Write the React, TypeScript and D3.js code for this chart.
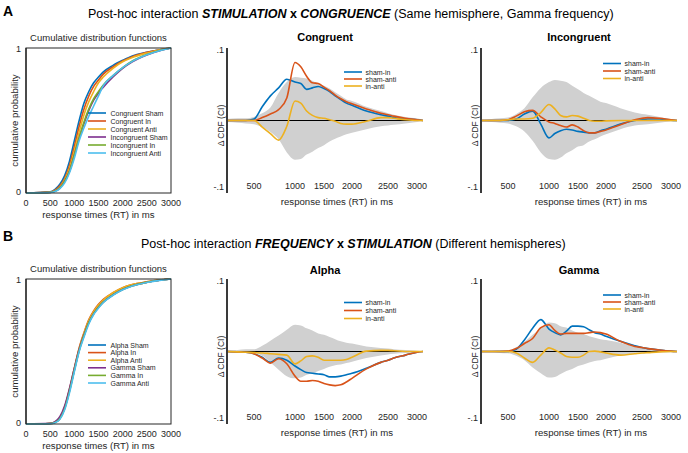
import React from 'react';
import * as d3 from 'd3';

const FONT = '"Liberation Sans", Arial, Helvetica, sans-serif';
const TXT = '#262626';
const C_BLUE = '#0072BD';
const C_ORANGE = '#D95319';
const C_YELLOW = '#EDB120';
const C_PURPLE = '#7E2F8E';
const C_GREEN = '#77AC30';
const C_CYAN = '#4DBEEE';
const C_CI = '#d0d0d0';

// ---------- Cumulative distribution functions ----------
const CDF_RT = [0, 500, 600, 700, 800, 900, 1000, 1100, 1200, 1300, 1400, 1500, 1600, 1800, 2000, 2200, 2500, 2800, 3000];
const CDF_TICKS = [0, 500, 1000, 1500, 2000, 2500, 3000];

const CDF_A_LABELS = ['Congruent Sham', 'Congruent In', 'Congruent Anti', 'Incongruent Sham', 'Incongruent In', 'Incongruent Anti'];
const CONG_SHAM = [0, 0.008, 0.025, 0.06, 0.12, 0.22, 0.36, 0.5, 0.62, 0.7, 0.76, 0.8, 0.835, 0.88, 0.915, 0.945, 0.97, 0.99, 1];
const CONG_IN = [0, 0.006, 0.02, 0.05, 0.1, 0.19, 0.32, 0.46, 0.58, 0.67, 0.735, 0.78, 0.82, 0.87, 0.91, 0.94, 0.97, 0.99, 1];
const CONG_ANTI = [0, 0.005, 0.015, 0.04, 0.09, 0.17, 0.29, 0.42, 0.54, 0.63, 0.7, 0.76, 0.8, 0.86, 0.905, 0.935, 0.965, 0.99, 1];
const INC_SHAM = [0, 0.004, 0.012, 0.035, 0.08, 0.15, 0.26, 0.38, 0.48, 0.57, 0.64, 0.69, 0.73, 0.8, 0.86, 0.905, 0.952, 0.985, 1];
const INC_IN = [0, 0.004, 0.012, 0.035, 0.08, 0.15, 0.26, 0.38, 0.49, 0.58, 0.65, 0.7, 0.745, 0.81, 0.865, 0.91, 0.955, 0.986, 1];
const INC_ANTI = [0, 0.003, 0.01, 0.03, 0.07, 0.14, 0.24, 0.36, 0.45, 0.53, 0.6, 0.67, 0.74, 0.81, 0.865, 0.908, 0.953, 0.985, 1];

const CDF_B_LABELS = ['Alpha Sham', 'Alpha In', 'Alpha Anti', 'Gamma Sham', 'Gamma In', 'Gamma Anti'];
const ALPHA_SHAM = [0, 0.003, 0.012, 0.038, 0.11, 0.23, 0.37, 0.51, 0.61, 0.7, 0.765, 0.81, 0.845, 0.895, 0.93, 0.955, 0.978, 0.993, 1];
const ALPHA_IN = [0, 0.003, 0.012, 0.04, 0.115, 0.24, 0.385, 0.525, 0.63, 0.72, 0.78, 0.825, 0.86, 0.905, 0.94, 0.962, 0.98, 0.994, 1];
const ALPHA_ANTI = [0, 0.003, 0.012, 0.04, 0.112, 0.235, 0.38, 0.52, 0.625, 0.715, 0.775, 0.82, 0.855, 0.905, 0.94, 0.962, 0.98, 0.994, 1];
const GAMMA_SHAM = [0, 0.004, 0.016, 0.05, 0.125, 0.245, 0.385, 0.515, 0.615, 0.7, 0.76, 0.805, 0.84, 0.89, 0.928, 0.953, 0.977, 0.993, 1];
const GAMMA_IN = [0, 0.003, 0.011, 0.036, 0.105, 0.225, 0.37, 0.505, 0.61, 0.7, 0.76, 0.805, 0.84, 0.89, 0.928, 0.953, 0.977, 0.993, 1];
const GAMMA_ANTI = [0, 0.002, 0.009, 0.032, 0.098, 0.215, 0.36, 0.5, 0.6, 0.69, 0.755, 0.8, 0.838, 0.888, 0.926, 0.952, 0.976, 0.992, 1];

const CDF_COLORS = [C_BLUE, C_ORANGE, C_YELLOW, C_PURPLE, C_GREEN, C_CYAN];

// ---------- Delta CDF ----------
const DELTA_RT = [170, 300, 400, 500, 600, 700, 800, 900, 1000, 1100, 1200, 1300, 1400, 1500, 1600, 1700, 1800, 1900, 2000, 2200, 2400, 2500, 2600, 2800, 3000, 3100];
const DELTA_TICKS = [500, 1000, 1500, 2000, 2500, 3000];
const DELTA_LABELS = ['sham-in', 'sham-anti', 'in-anti'];
const DELTA_COLORS = [C_BLUE, C_ORANGE, C_YELLOW];

// A: Congruent
const CONG_SHAM_IN = [0, 0, 0, 0.002, 0.019, 0.034, 0.045, 0.057, 0.053, 0.051, 0.043, 0.045, 0.047, 0.044, 0.04, 0.034, 0.029, 0.024, 0.021, 0.013, 0.008, 0.006, 0.004, 0.002, 0.001, 0];
const CONG_SHAM_ANTI = [0, 0, 0, 0, 0.004, 0.009, 0.015, 0.031, 0.08, 0.074, 0.061, 0.052, 0.051, 0.046, 0.041, 0.035, 0.03, 0.026, 0.023, 0.016, 0.01, 0.008, 0.006, 0.003, 0.001, 0];
const CONG_IN_ANTI = [0, 0, 0, 0, -0.009, -0.018, -0.027, -0.008, 0.027, 0.024, 0.013, 0.007, 0.004, 0.003, 0.001, -0.001, -0.004, -0.005, -0.005, -0.001, 0.004, 0.004, 0.003, 0.001, 0, 0];
const CONG_CI_HI = [0.002, 0.003, 0.003, 0.005, 0.01, 0.018, 0.038, 0.053, 0.06, 0.059, 0.058, 0.055, 0.051, 0.048, 0.044, 0.039, 0.034, 0.029, 0.027, 0.019, 0.013, 0.01, 0.008, 0.005, 0.003, 0.001];
const CONG_CI_LO = [-0.002, -0.003, -0.004, -0.005, -0.009, -0.016, -0.026, -0.044, -0.054, -0.053, -0.047, -0.043, -0.038, -0.034, -0.029, -0.025, -0.022, -0.019, -0.017, -0.012, -0.008, -0.007, -0.006, -0.004, -0.002, -0.001];

// A: Incongruent
const INC_SHAM_IN = [0, 0, 0, 0, 0.002, 0.009, 0.013, -0.005, -0.024, -0.018, -0.014, -0.012, -0.013, -0.015, -0.016, -0.017, -0.017, -0.014, -0.012, -0.005, 0, 0.001, 0.002, 0.002, 0.0005, 0];
const INC_SHAM_ANTI = [0, 0, 0, 0.001, 0.006, 0.012, 0.014, 0.005, -0.002, -0.004, -0.007, -0.009, -0.006, -0.009, -0.014, -0.017, -0.017, -0.015, -0.013, -0.006, 0.001, 0.003, 0.004, 0.003, 0.001, 0];
const INC_IN_ANTI = [0, 0, 0, 0.001, 0.002, 0.002, 0.003, 0.011, 0.022, 0.016, 0.007, 0.005, 0.007, 0.006, 0.003, 0, -0.001, -0.001, -0.0005, 0, 0, 0, 0, 0, 0, 0];
const INC_CI_HI = [0.001, 0.002, 0.003, 0.004, 0.009, 0.017, 0.032, 0.045, 0.053, 0.056, 0.055, 0.053, 0.048, 0.043, 0.038, 0.034, 0.03, 0.026, 0.024, 0.017, 0.011, 0.009, 0.008, 0.005, 0.002, 0.001];
const INC_CI_LO = [-0.001, -0.002, -0.003, -0.004, -0.008, -0.015, -0.028, -0.044, -0.053, -0.054, -0.051, -0.045, -0.041, -0.036, -0.034, -0.029, -0.026, -0.022, -0.019, -0.012, -0.007, -0.006, -0.005, -0.003, -0.0015, -0.001];

// B: Alpha
const ALPHA_SHAM_IN = [0, -0.0005, -0.001, -0.003, -0.008, -0.015, -0.009, -0.012, -0.02, -0.025, -0.029, -0.03, -0.031, -0.032, -0.035, -0.035, -0.034, -0.032, -0.03, -0.023, -0.015, -0.012, -0.009, -0.005, -0.001, 0];
const ALPHA_SHAM_ANTI = [0, -0.0005, -0.001, -0.003, -0.009, -0.016, -0.01, -0.017, -0.034, -0.041, -0.041, -0.04, -0.041, -0.044, -0.046, -0.047, -0.046, -0.042, -0.037, -0.024, -0.015, -0.012, -0.009, -0.005, -0.001, 0];
const ALPHA_IN_ANTI = [0, -0.0005, -0.001, -0.0015, -0.002, -0.003, -0.004, -0.005, -0.017, -0.013, -0.007, -0.006, -0.008, -0.012, -0.012, -0.012, -0.012, -0.011, -0.008, 0.0005, 0.0015, 0.0015, 0.001, 0, 0, 0];
const ALPHA_CI_HI = [0.001, 0.002, 0.003, 0.003, 0.008, 0.015, 0.022, 0.03, 0.037, 0.036, 0.032, 0.029, 0.025, 0.023, 0.02, 0.017, 0.014, 0.012, 0.011, 0.007, 0.005, 0.004, 0.003, 0.002, 0.001, 0];
const ALPHA_CI_LO = [-0.001, -0.002, -0.002, -0.0025, -0.006, -0.015, -0.025, -0.034, -0.037, -0.036, -0.032, -0.03, -0.027, -0.024, -0.021, -0.019, -0.018, -0.016, -0.014, -0.009, -0.0055, -0.004, -0.003, -0.002, -0.001, 0];

// B: Gamma
const GAMMA_SHAM_IN = [0, 0, 0, 0, 0.003, 0.016, 0.032, 0.044, 0.031, 0.026, 0.023, 0.028, 0.035, 0.035, 0.034, 0.03, 0.026, 0.024, 0.021, 0.014, 0.008, 0.0055, 0.004, 0.002, 0.0005, 0];
const GAMMA_SHAM_ANTI = [0, 0, 0, 0.0005, 0.004, 0.011, 0.018, 0.033, 0.037, 0.029, 0.024, 0.025, 0.025, 0.025, 0.025, 0.026, 0.027, 0.026, 0.024, 0.014, 0.007, 0.0055, 0.004, 0.002, 0.0005, 0];
const GAMMA_IN_ANTI = [0, 0, 0, 0, -0.002, -0.009, -0.015, -0.005, 0.005, 0.002, -0.002, -0.007, -0.008, -0.008, -0.005, 0, 0.0005, -0.0005, -0.002, -0.005, -0.003, -0.002, -0.0015, -0.0005, 0, 0];
const GAMMA_CI_HI = [0.001, 0.001, 0.002, 0.002, 0.006, 0.013, 0.023, 0.032, 0.04, 0.039, 0.035, 0.033, 0.029, 0.026, 0.024, 0.021, 0.019, 0.017, 0.016, 0.012, 0.007, 0.006, 0.005, 0.003, 0.0014, 0.0005];
const GAMMA_CI_LO = [-0.001, -0.001, -0.002, -0.0025, -0.006, -0.012, -0.022, -0.03, -0.036, -0.035, -0.031, -0.027, -0.024, -0.02, -0.018, -0.015, -0.013, -0.012, -0.01, -0.0055, -0.003, -0.0025, -0.002, -0.0015, -0.001, 0];

// piecewise axis of the delta plots (tick label spacing in the figure is irregular)
const DELTA_KNOTS = [170, 500, 1000, 1500, 2000, 2500, 3000, 3100];
const DELTA_OFFS = [0, 27, 68, 97, 125, 161, 190, 196];

type CdfProps = {
  top: number;
  series: number[][];
  labels: string[];
  legendY: number;
  legendStep: number;
};

function CdfPanel({ top, series, labels, legendY, legendStep }: CdfProps) {
  const left = 26, right = 171, bottom = top + 145;
  const x = d3.scaleLinear().domain([0, 3000]).range([left, right]);
  const y = d3.scaleLinear().domain([0, 1]).range([bottom, top]);
  const line = d3.line<number>().x((_, i) => x(CDF_RT[i])).y(d => y(d)).curve(d3.curveMonotoneX);
  const cx = (left + right) / 2;
  return (
    <g>
      <text x={cx} y={top - 7.5} textAnchor="middle" fontSize={9.5} fill={TXT}>Cumulative distribution functions</text>
      {series.map((s, i) => (
        <path key={i} d={line(s) || ''} fill="none" stroke={CDF_COLORS[i]} strokeWidth={1.6} />
      ))}
      <rect x={left} y={top} width={right - left} height={bottom - top} fill="none" stroke="#262626" strokeWidth={1} />
      <line x1={left} x2={left} y1={top} y2={bottom} stroke="#262626" strokeWidth={1.3} />
      <text x={21} y={y(1) + 3.5} textAnchor="end" fontSize={9} fill={TXT}>1</text>
      <text x={21} y={y(0) + 2} textAnchor="end" fontSize={9} fill={TXT}>0</text>
      {CDF_TICKS.map(t => (
        <text key={t} x={x(t)} y={bottom + 13} textAnchor="middle" fontSize={9} fill={TXT}>{t}</text>
      ))}
      <text x={cx} y={bottom + 25} textAnchor="middle" fontSize={9.6} fill={TXT}>response times (RT) in ms</text>
      <text transform={`translate(17.5,${(top + bottom) / 2}) rotate(-90)`} textAnchor="middle" fontSize={9.6} fill={TXT}>cumulative probability</text>
      {labels.map((lab, i) => (
        <g key={lab}>
          <line x1={88} x2={106} y1={legendY + i * legendStep} y2={legendY + i * legendStep} stroke={CDF_COLORS[i]} strokeWidth={1.6} />
          <text x={110.5} y={legendY + i * legendStep + 2.5} fontSize={7} fill={TXT}>{lab}</text>
        </g>
      ))}
    </g>
  );
}

type DeltaProps = {
  axisX: number;
  top: number;
  title: string;
  series: number[][];
  hi: number[];
  lo: number[];
  legendDx: number;
  legendY: number;
  legendStep: number;
  titleY: number;
};

function DeltaPanel({ axisX, top, title, series, hi, lo, legendDx, legendY, legendStep, titleY }: DeltaProps) {
  const bottom = top + 145;
  const x = d3.scaleLinear().domain(DELTA_KNOTS).range(DELTA_OFFS.map(o => axisX + o));
  const y = d3.scaleLinear().domain([-0.1, 0.1]).range([bottom, top]);
  const area = d3.area<number>()
    .x((_, i) => x(DELTA_RT[i]))
    .y0((_, i) => y(lo[i]))
    .y1(d => y(d))
    .curve(d3.curveMonotoneX);
  const line = d3.line<number>().x((_, i) => x(DELTA_RT[i])).y(d => y(d)).curve(d3.curveMonotoneX);
  const x0 = x(DELTA_RT[0]);
  const x1 = x(DELTA_RT[DELTA_RT.length - 1]);
  return (
    <g>
      <text x={(x0 + x1) / 2} y={titleY} textAnchor="middle" fontSize={11} fontWeight="bold" fill="#000">{title}</text>
      <path d={area(hi) || ''} fill={C_CI} stroke="none" />
      <line x1={x0} x2={x1} y1={y(0)} y2={y(0)} stroke="#000" strokeWidth={1} />
      {series.map((s, i) => (
        <path key={i} d={line(s) || ''} fill="none" stroke={DELTA_COLORS[i]} strokeWidth={1.6} />
      ))}
      <line x1={axisX} x2={axisX} y1={top} y2={bottom} stroke="#3a3a3a" strokeWidth={2} />
      <text x={axisX - 3} y={y(0.1) + 4.5} textAnchor="end" fontSize={9} fill={TXT}>.1</text>
      <text x={axisX - 3} y={y(-0.1) - 3} textAnchor="end" fontSize={9} fill={TXT}>-.1</text>
      {DELTA_TICKS.map(t => (
        <text key={t} x={x(t)} y={bottom - 4.5} textAnchor="middle" fontSize={9} fill={TXT}>{t}</text>
      ))}
      <text x={axisX + 110} y={bottom + 12} textAnchor="middle" fontSize={9.6} fill={TXT}>response times (RT) in ms</text>
      <text transform={`translate(${axisX - 3.5},${y(0) + 5}) rotate(-90)`} textAnchor="middle" fontSize={8.5} fill={TXT}>Δ CDF (CI)</text>
      {DELTA_LABELS.map((lab, i) => (
        <g key={lab}>
          <line x1={axisX + legendDx} x2={axisX + legendDx + 18} y1={legendY + i * legendStep} y2={legendY + i * legendStep} stroke={DELTA_COLORS[i]} strokeWidth={1.6} />
          <text x={axisX + legendDx + 21.5} y={legendY + i * legendStep + 2.5} fontSize={7} fill={TXT}>{lab}</text>
        </g>
      ))}
    </g>
  );
}

export default function App() {
  return (
    <svg width={688} height={453} style={{ position: 'absolute', left: 0, top: 0, background: '#fff' }} fontFamily={FONT}>
      <rect x={0} y={0} width={688} height={453} fill="#fff" />
      <text x={3} y={16} fontSize={14} fontWeight="bold" fill="#000">A</text>
      <text x={88} y={17.5} fontSize={12.5} fill="#000">
        <tspan>Post-hoc interaction </tspan>
        <tspan fontWeight="bold" fontStyle="italic">STIMULATION</tspan>
        <tspan fontWeight="bold"> x </tspan>
        <tspan fontWeight="bold" fontStyle="italic">CONGRUENCE</tspan>
        <tspan> (Same hemisphere, Gamma frequency)</tspan>
      </text>
      <text x={3} y={241} fontSize={14} fontWeight="bold" fill="#000">B</text>
      <text x={141} y={247.5} fontSize={12.5} fill="#000">
        <tspan>Post-hoc interaction </tspan>
        <tspan fontWeight="bold" fontStyle="italic">FREQUENCY</tspan>
        <tspan fontWeight="bold"> x </tspan>
        <tspan fontWeight="bold" fontStyle="italic">STIMULATION</tspan>
        <tspan> (Different hemispheres)</tspan>
      </text>

      <CdfPanel top={48} series={[CONG_SHAM, CONG_IN, CONG_ANTI, INC_SHAM, INC_IN, INC_ANTI]} labels={CDF_A_LABELS} legendY={113} legendStep={8} />
      <DeltaPanel axisX={227} top={48} title="Congruent" titleY={41} series={[CONG_SHAM_IN, CONG_SHAM_ANTI, CONG_IN_ANTI]} hi={CONG_CI_HI} lo={CONG_CI_LO} legendDx={117} legendY={72} legendStep={7} />
      <DeltaPanel axisX={481} top={48} title="Incongruent" titleY={41} series={[INC_SHAM_IN, INC_SHAM_ANTI, INC_IN_ANTI]} hi={INC_CI_HI} lo={INC_CI_LO} legendDx={122} legendY={63.5} legendStep={7.5} />

      <CdfPanel top={279} series={[ALPHA_SHAM, ALPHA_IN, ALPHA_ANTI, GAMMA_SHAM, GAMMA_IN, GAMMA_ANTI]} labels={CDF_B_LABELS} legendY={345} legendStep={7.6} />
      <DeltaPanel axisX={227} top={279} title="Alpha" titleY={273.5} series={[ALPHA_SHAM_IN, ALPHA_SHAM_ANTI, ALPHA_IN_ANTI]} hi={ALPHA_CI_HI} lo={ALPHA_CI_LO} legendDx={117} legendY={302.5} legendStep={8} />
      <DeltaPanel axisX={481} top={279} title="Gamma" titleY={273.5} series={[GAMMA_SHAM_IN, GAMMA_SHAM_ANTI, GAMMA_IN_ANTI]} hi={GAMMA_CI_HI} lo={GAMMA_CI_LO} legendDx={122} legendY={295} legendStep={7} />
    </svg>
  );
}
